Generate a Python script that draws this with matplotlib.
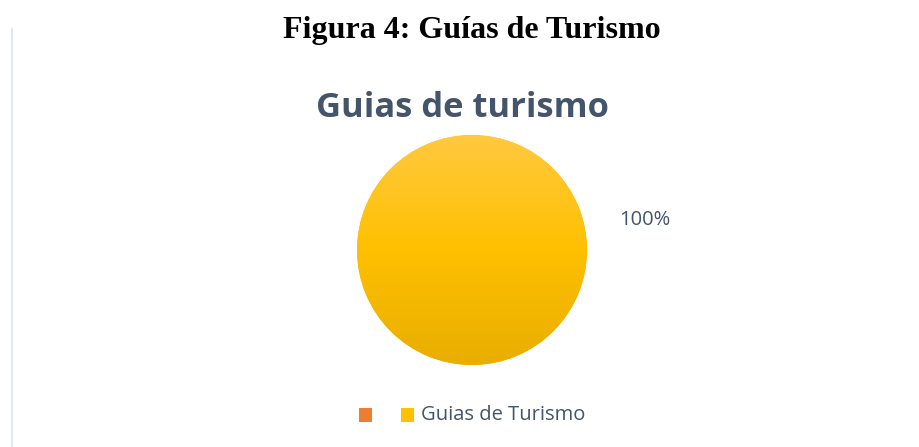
import matplotlib
matplotlib.use("Agg")
import matplotlib.pyplot as plt
import numpy as np
from matplotlib.colors import LinearSegmentedColormap
from matplotlib.patches import Rectangle

categories = ["", "Guias de Turismo"]
values = [0, 100]
colors = ["#ED7D31", "#FFC000"]
pct_label = "100%"

W, H = 920, 447
fig = plt.figure(figsize=(W/100, H/100), dpi=100)
fig.patch.set_facecolor("white")

def fx(x): return x / W
def fy(y): return 1 - y / H

# left border line
fig.add_artist(plt.Line2D([fx(11.5), fx(11.5)], [0, fy(29)], color="#DDE1EA", lw=1.2))

fig.text(fx(471.5), fy(38), "Figura 4: Guías de Turismo", ha="center", va="baseline",
         fontsize=23, fontweight="bold", family="Liberation Serif", color="black")
fig.text(fx(462.5), fy(117), "Guias de turismo", ha="center", va="baseline",
         fontsize=24.8, fontweight="bold", family="Open Sans", color="#44546A")

r_px = 115
cx, cy = 472, 250
ax = fig.add_axes([fx(cx - r_px), fy(cy + r_px), 2*r_px/W, 2*r_px/H])
wedges, _ = ax.pie(values, colors=colors, startangle=90, counterclock=False, radius=1,
                   wedgeprops=dict(linewidth=0))
ax.set_xlim(-1, 1); ax.set_ylim(-1, 1)
ax.set_aspect("auto")
ax.axis("off")

cmap = LinearSegmentedColormap.from_list("g", ["#FFC940", "#FFC000", "#E8AE00"])
grad = np.linspace(0, 1, 256).reshape(-1, 1)
for w, v in zip(wedges, values):
    if v > 0:
        im = ax.imshow(grad, cmap=cmap, extent=[-1, 1, -1, 1], aspect="auto", origin="upper", zorder=2)
        im.set_clip_path(w)

fig.text(fx(645), fy(220), pct_label, ha="center", va="center",
         fontsize=14.5, family="Open Sans", color="#44546A")

# legend
lx = [365.5, 408]
for i, (cat, col) in enumerate(zip(categories, colors)):
    fig.add_artist(Rectangle((fx(lx[i] - 6.5), fy(415 + 7)), 13/W, 14/H,
                             transform=fig.transFigure, color=col, lw=0))
    if cat:
        fig.text(fx(421), fy(415), cat, ha="left", va="center",
                 fontsize=14.5, family="Open Sans", color="#44546A")

fig.savefig("out.png", dpi=100)
